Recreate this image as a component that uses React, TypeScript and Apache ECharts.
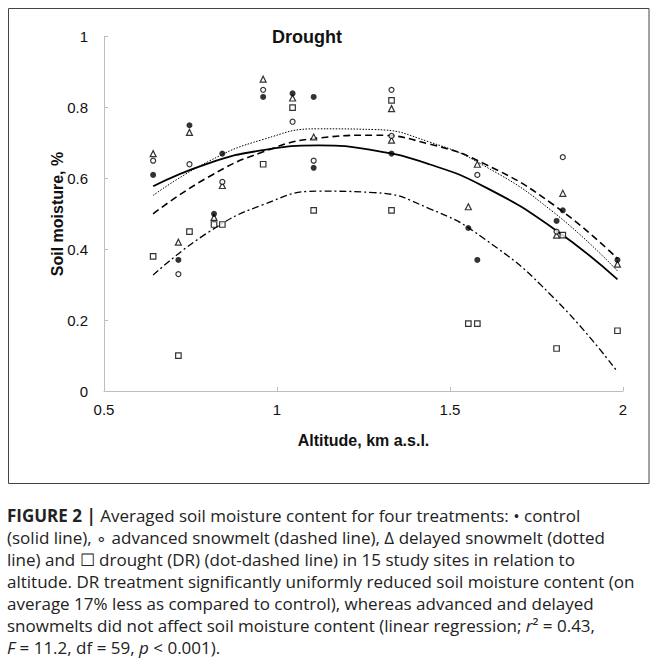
import React, { useEffect, useRef } from "react";
import * as echarts from "echarts";

// ---- data ----
const xTicks = [0.5, 1, 1.5, 2];
const yTicks = [0, 0.2, 0.4, 0.6, 0.8, 1];

// observed points [altitude km, soil moisture]
const controlPts = [
  [0.642, 0.61], [0.715, 0.37], [0.747, 0.75], [0.818, 0.5], [0.842, 0.67],
  [0.96, 0.83], [1.045, 0.84], [1.106, 0.83], [1.106, 0.63], [1.331, 0.67],
  [1.553, 0.46], [1.579, 0.37], [1.808, 0.48], [1.826, 0.51], [1.984, 0.37],
];
const advancedPts = [
  [0.642, 0.65], [0.715, 0.33], [0.747, 0.64], [0.842, 0.59], [0.96, 0.85],
  [1.045, 0.76], [1.106, 0.65], [1.331, 0.85], [1.331, 0.72], [1.579, 0.61],
  [1.808, 0.45], [1.826, 0.66],
];
const delayedPts = [
  [0.642, 0.67], [0.715, 0.42], [0.747, 0.73], [0.818, 0.49], [0.842, 0.58],
  [0.96, 0.88], [1.045, 0.827], [1.106, 0.717], [1.331, 0.797], [1.331, 0.708],
  [1.553, 0.52], [1.579, 0.64], [1.808, 0.44], [1.826, 0.558], [1.984, 0.358],
];
const droughtPts = [
  [0.642, 0.38], [0.715, 0.1], [0.747, 0.45], [0.818, 0.47], [0.842, 0.47],
  [0.96, 0.64], [1.045, 0.8], [1.106, 0.51], [1.331, 0.82], [1.331, 0.51],
  [1.553, 0.19], [1.579, 0.19], [1.808, 0.12], [1.826, 0.44], [1.984, 0.17],
];

// fitted trend curves
const curveX = [0.642, 0.8, 0.96, 1.12, 1.28, 1.44, 1.6, 1.8, 1.984];
const controlFit = [0.578, 0.642, 0.68, 0.693, 0.679, 0.64, 0.576, 0.458, 0.315];
const advancedFit = [0.5, 0.603, 0.675, 0.714, 0.722, 0.697, 0.641, 0.525, 0.374];
const delayedFit = [0.552, 0.647, 0.71, 0.74, 0.738, 0.703, 0.635, 0.504, 0.339];
const droughtFit = [0.327, 0.447, 0.526, 0.564, 0.56, 0.515, 0.429, 0.263, 0.054];

const captionLines = [
  "{b|FIGURE 2 |} Averaged soil moisture content for four treatments: \u2022 control",
  "(solid line), \u2218 advanced snowmelt (dashed line), \u0394 delayed snowmelt (dotted",
  "line) and \u2610 drought (DR) (dot-dashed line) in 15 study sites in relation to",
  "altitude. DR treatment significantly uniformly reduced soil moisture content (on",
  "average 17% less as compared to control), whereas advanced and delayed",
  "snowmelts did not affect soil moisture content (linear regression; {i|r}\u00b2 = 0.43,",
  "{i|F} = 11.2, df = 59, {i|p} < 0.001).",
];

const FONT = "'Liberation Sans', Arial, Helvetica, sans-serif";
const CAP_FONT = "'Open Sans', 'Liberation Sans', Arial, sans-serif";

export default function App() {
  const ref = useRef<HTMLDivElement>(null);
  useEffect(() => {
    if (!ref.current) return;
    const chart = echarts.init(ref.current, undefined, { renderer: "svg" });
    const pair = (xs: number[], ys: number[]) => xs.map((x, i) => [x, ys[i]]);
    const axisGrey = "#bdbdbd";
    const capFs = 17;
    const capLH = 22;
    const capY0 = 515;
    const capColor = "#222";
    const captionEls = captionLines.map((t, i) => ({
      type: "text",
      x: 7,
      y: capY0 + i * capLH,
      style: {
        text: t,
        fill: capColor,
        fontSize: capFs,
        fontFamily: CAP_FONT,
        verticalAlign: "middle",
        align: "left",
        rich: {
          b: { fontWeight: "bold", fontSize: capFs, fontFamily: CAP_FONT, fill: capColor },
          i: { fontStyle: "italic", fontSize: capFs, fontFamily: CAP_FONT, fill: capColor },
        },
      },
    }));
    const option: any = {
      animation: false,
      backgroundColor: "#ffffff",
      grid: {
        left: 104,
        right: 657 - 623,
        top: 36.7,
        bottom: 670 - 391,
        containLabel: false,
        outerBoundsMode: "none",
      },
      xAxis: {
        type: "value",
        min: xTicks[0],
        max: xTicks[xTicks.length - 1],
        interval: 0.5,
        axisLine: { show: true, lineStyle: { color: axisGrey, width: 1 } },
        axisTick: { show: true, inside: true, length: 4, lineStyle: { color: axisGrey } },
        splitLine: { show: false },
        axisLabel: { color: "#111", fontSize: 15, fontFamily: FONT, margin: 11 },
      },
      yAxis: {
        type: "value",
        min: yTicks[0],
        max: yTicks[yTicks.length - 1],
        interval: 0.2,
        axisLine: { show: true, lineStyle: { color: axisGrey, width: 1 } },
        axisTick: { show: true, inside: true, length: 4, lineStyle: { color: axisGrey } },
        splitLine: { show: false },
        axisLabel: { color: "#111", fontSize: 15, fontFamily: FONT, margin: 16 },
      },
      graphic: [
        {
          type: "rect",
          shape: { x: 8.5, y: 8.5, width: 640.5, height: 475 },
          style: { fill: "none", stroke: "#444", lineWidth: 1 },
          silent: true,
        },
        {
          type: "text",
          x: 307,
          y: 37,
          style: {
            text: "Drought",
            fontSize: 18,
            fontWeight: "bold",
            fontFamily: FONT,
            fill: "#111",
            align: "center",
            verticalAlign: "middle",
          },
        },
        {
          type: "text",
          x: 57,
          y: 214,
          rotation: Math.PI / 2,
          style: {
            text: "Soil moisture, %",
            fontSize: 16,
            fontWeight: "bold",
            fontFamily: FONT,
            fill: "#111",
            align: "center",
            verticalAlign: "middle",
          },
        },
        {
          type: "text",
          x: 363.5,
          y: 440,
          style: {
            text: "Altitude, km a.s.l.",
            fontSize: 16,
            fontWeight: "bold",
            fontFamily: FONT,
            fill: "#111",
            align: "center",
            verticalAlign: "middle",
          },
        },
        ...captionEls,
      ],
      series: [
        {
          type: "line",
          data: pair(curveX, controlFit),
          smooth: true,
          symbol: "none",
          lineStyle: { color: "#000", width: 1.8, type: "solid" },
          z: 2,
        },
        {
          type: "line",
          data: pair(curveX, advancedFit),
          smooth: true,
          symbol: "none",
          lineStyle: { color: "#000", width: 1.6, type: [7, 4] },
          z: 2,
        },
        {
          type: "line",
          data: pair(curveX, delayedFit),
          smooth: true,
          symbol: "none",
          lineStyle: { color: "#000", width: 1, type: [1.5, 1.5] },
          z: 2,
        },
        {
          type: "line",
          data: pair(curveX, droughtFit),
          smooth: true,
          symbol: "none",
          lineStyle: { color: "#000", width: 1.3, type: [7, 3, 2, 3] },
          z: 2,
        },
        {
          type: "scatter",
          data: droughtPts,
          symbol: "rect",
          symbolSize: 5.5,
          itemStyle: { color: "#fff", borderColor: "#000", borderWidth: 1.2 },
          z: 3,
        },
        {
          type: "scatter",
          data: delayedPts,
          symbol: "triangle",
          symbolSize: 6,
          itemStyle: { color: "#fff", borderColor: "#000", borderWidth: 1.2 },
          z: 3,
        },
        {
          type: "scatter",
          data: advancedPts,
          symbol: "circle",
          symbolSize: 5,
          itemStyle: { color: "#fff", borderColor: "#000", borderWidth: 1.2 },
          z: 3,
        },
        {
          type: "scatter",
          data: controlPts,
          symbol: "circle",
          symbolSize: 6,
          itemStyle: { color: "#000", borderColor: "#000", borderWidth: 0 },
          z: 4,
        },
      ],
    };
    chart.setOption(option);
    return () => chart.dispose();
  }, []);
  return (
    <div
      ref={ref}
      style={{ position: "fixed", left: 0, top: 0, width: 657, height: 670, background: "#fff" }}
    />
  );
}
